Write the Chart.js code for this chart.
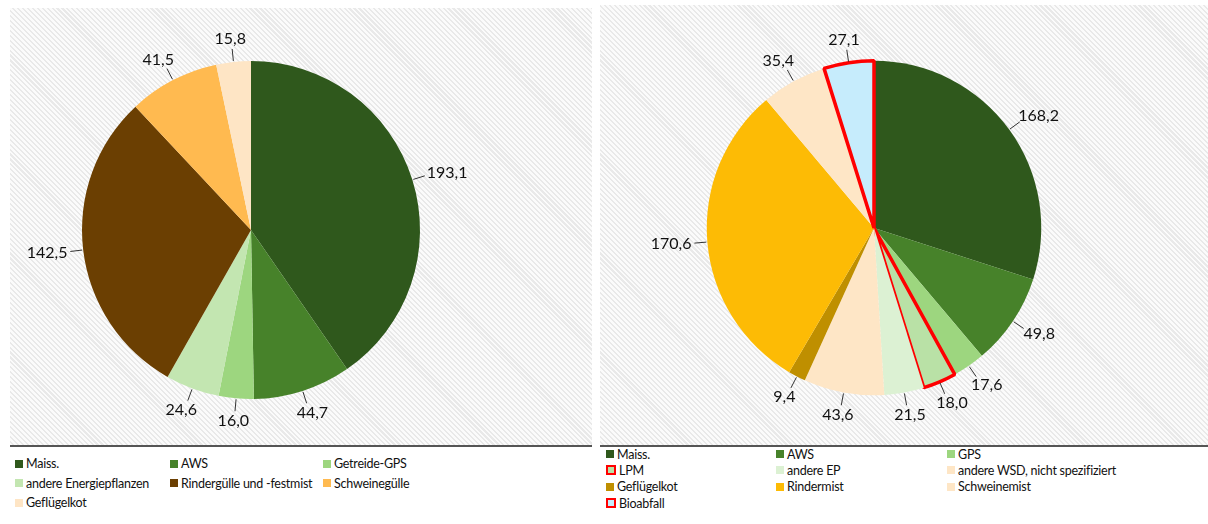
<!DOCTYPE html>
<html>
<head>
<meta charset="utf-8">
<script src="https://cdn.jsdelivr.net/npm/chart.js@4"></script>
<style>
  body { margin: 0; background: #fff; font-family: Lato, sans-serif; }
  .panel {
    position: absolute;
    background: repeating-linear-gradient(45deg, #fbfbfb 0px, #fbfbfb 2px, #e9e9e9 2px, #e9e9e9 3.5px);
    border-bottom: 2px solid #555;
  }
  .legend {
    position: absolute;
    display: grid;
    font-size: 12.5px;
    letter-spacing: -0.25px;
    color: #111;
  }
  .legend div { display: flex; align-items: center; white-space: nowrap; }
  .legend span.box { display: inline-block; box-sizing: border-box; margin-right: 3px; }
</style>
</head>
<body>
<div class="panel" style="left:10px;top:8px;width:582px;height:437px"><canvas id="leftChart"></canvas></div>
<div class="panel" style="left:600px;top:5px;width:608px;height:440px"><canvas id="rightChart"></canvas></div>
<div class="legend" id="leftLegend" style="left:15px;top:454px;grid-template-columns:155px 153px 160px;grid-auto-rows:19.5px"></div>
<div class="legend" id="rightLegend" style="left:606px;top:446px;grid-template-columns:170px 171px 200px;grid-auto-rows:16.3px"></div>
<script>
// left pie
const leftCategories = ['Maiss.', 'AWS', 'Getreide-GPS', 'andere Energiepflanzen', 'Rindergülle und -festmist', 'Schweinegülle', 'Geflügelkot'];
const leftValues = [193.1, 44.7, 16.0, 24.6, 142.5, 41.5, 15.8];
const leftColors = ['#2f581c', '#47822a', '#9dd67f', '#c3e6b1', '#6b3f02', '#ffba50', '#fee5c5'];

// right pie
const rightCategories = ['Maiss.', 'AWS', 'GPS', 'LPM', 'andere EP', 'andere WSD, nicht spezifiziert', 'Geflügelkot', 'Rindermist', 'Schweinemist', 'Bioabfall'];
const rightValues = [168.2, 49.8, 17.6, 18.0, 21.5, 43.6, 9.4, 170.6, 35.4, 27.1];
const rightColors = ['#2f581c', '#47822a', '#9dd67f', '#b9e1a6', '#dcf1d3', '#fee6c6', '#bf8f00', '#fdbb05', '#fee6c6', '#c6ecfc'];
const rightOutlined = ['LPM', 'Bioabfall'];

const fmt = v => v.toFixed(1).replace('.', ',');

// value labels outside the slices, with short leader lines
const outsideLabels = {
  id: 'outsideLabels',
  afterDatasetsDraw(chart) {
    const ctx = chart.ctx;
    const meta = chart.getDatasetMeta(0);
    const values = chart.data.datasets[0].data;
    ctx.save();
    ctx.font = '16px Lato';
    ctx.fillStyle = '#111';
    ctx.strokeStyle = '#333';
    ctx.lineWidth = 1;
    ctx.textAlign = 'center';
    ctx.textBaseline = 'middle';
    meta.data.forEach((arc, i) => {
      const p = arc.getProps(['x', 'y', 'startAngle', 'endAngle', 'outerRadius'], true);
      const mid = (p.startAngle + p.endAngle) / 2;
      const dx = Math.cos(mid), dy = Math.sin(mid);
      const r = p.outerRadius;
      const gap = 16;
      ctx.beginPath();
      ctx.moveTo(p.x + dx * (r + 1), p.y + dy * (r + 1));
      ctx.lineTo(p.x + dx * (r + gap - 3), p.y + dy * (r + gap - 3));
      ctx.stroke();
      const text = fmt(values[i]);
      const w = ctx.measureText(text).width, h = 14;
      const px = p.x + dx * (r + gap), py = p.y + dy * (r + gap);
      ctx.fillText(text, px + dx * w / 2, py + dy * h / 2);
    });
    ctx.restore();
  }
};

function buildLegend(chart, el) {
  const ds = chart.data.datasets[0];
  chart.data.labels.forEach((label, i) => {
    const item = document.createElement('div');
    const box = document.createElement('span');
    box.className = 'box';
    const bw = ds.borderWidth[i];
    const size = bw ? 10 : 8;
    box.style.width = size + 'px';
    box.style.height = size + 'px';
    box.style.background = ds.backgroundColor[i];
    if (bw) box.style.border = '2.5px solid ' + ds.borderColor[i];
    item.appendChild(box);
    item.appendChild(document.createTextNode(label));
    el.appendChild(item);
  });
}

function makePie(id, labels, values, colors, outlined, padding) {
  return new Chart(document.getElementById(id), {
    type: 'pie',
    data: {
      labels: labels,
      datasets: [{
        data: values,
        backgroundColor: colors,
        borderColor: labels.map(l => outlined.includes(l) ? '#ff0000' : colors[0]),
        borderWidth: labels.map(l => outlined.includes(l) ? 3.5 : 0),
      }]
    },
    options: {
      responsive: true,
      maintainAspectRatio: false,
      animation: false,
      layout: { padding: padding },
      plugins: {
        legend: { display: false },
        tooltip: { enabled: false }
      }
    },
    plugins: [outsideLabels]
  });
}

const leftChart = makePie('leftChart', leftCategories, leftValues, leftColors, [], { left: 72, right: 172, top: 53, bottom: 46 });
const rightChart = makePie('rightChart', rightCategories, rightValues, rightColors, rightOutlined, { left: 105, right: 165, top: 54, bottom: 48 });

buildLegend(leftChart, document.getElementById('leftLegend'));
buildLegend(rightChart, document.getElementById('rightLegend'));
</script>
</body>
</html>
